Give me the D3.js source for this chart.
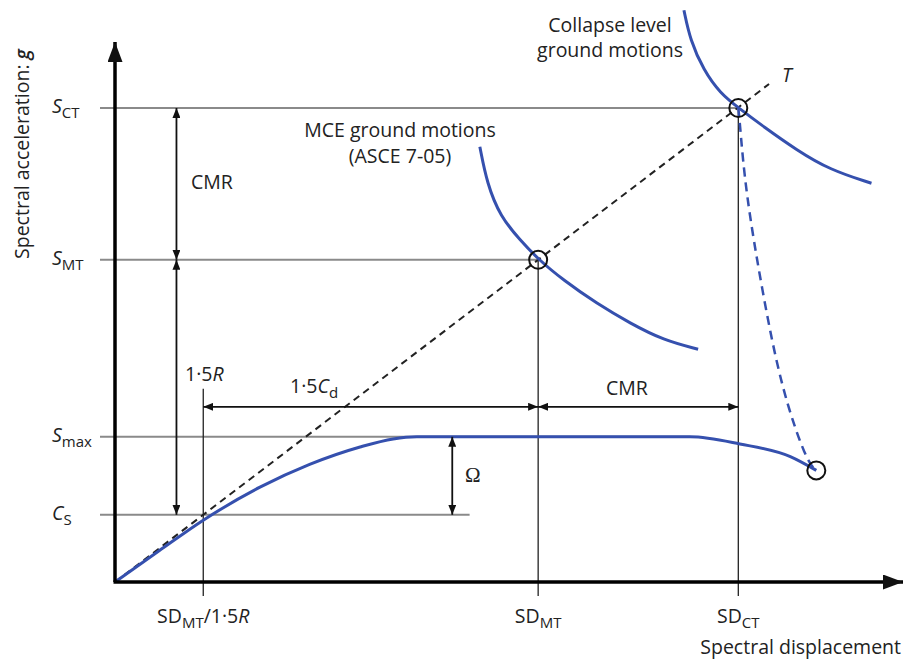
<!DOCTYPE html>
<html lang="en">
  <head>
    <meta charset="UTF-8" />
    <title>CMR diagram</title>
    <style>
      body { margin: 0; background: #fff; }
      text { font-family: "Open Sans", "Noto Sans", sans-serif; fill: #222; }
    </style>
  </head>
  <body>
    <script src="https://d3js.org/d3.v7.min.js"></script>
    <script>
      const width = 904;
      const height = 660;
      const fs = 19.5;

      // levels (units chosen so the T line is y = x)
      const sdLevels = [
        { key: "SDy", x: 1.12, top: 3.22 },
        { key: "SDMT", x: 5.37, top: 5.37 },
        { key: "SDCT", x: 7.91, top: 7.9 },
      ];
      const saLevels = [
        { key: "SCT", y: 7.9, x2: 7.91 },
        { key: "SMT", y: 5.37, x2: 5.37 },
        { key: "Smax", y: 2.42, x2: 7.3 },
        { key: "CS", y: 1.12, x2: 4.5 },
      ];

      // pushover curve
      const pushover = [
        [0, 0], [0.56, 0.52], [1.12, 1.03], [1.84, 1.58], [2.47, 1.96],
        [3.11, 2.25], [3.53, 2.385], [3.83, 2.42], [7.3, 2.42],
        [7.93, 2.3], [8.57, 2.09], [8.9, 1.86],
      ];
      // dashed drop to collapse
      const collapseDrop = [
        [7.91, 7.9], [7.93, 7.65], [8.0, 6.53], [8.21, 4.87],
        [8.46, 3.2], [8.78, 2.0], [8.9, 1.86],
      ];
      // MCE spectrum
      const mceCurve = [
        [4.63, 7.255], [4.72, 6.645], [4.89, 6.09], [5.14, 5.7], [5.37, 5.38],
        [5.69, 5.03], [6.11, 4.645], [6.54, 4.31], [6.96, 4.03], [7.4, 3.88],
      ];
      // collapse spectrum
      const collapseCurve = [
        [7.22, 9.53], [7.3, 9.03], [7.47, 8.53], [7.68, 8.145], [7.92, 7.895],
        [8.23, 7.59], [8.65, 7.2], [9.07, 6.87], [9.6, 6.645],
      ];
      const tLine = [[0, 0], [8.3, 8.3]];
      const markers = [[5.37, 5.37], [7.91, 7.9], [8.9, 1.86]];

      // dimension arrows
      const arrows = [
        [[0.78, 7.9], [0.78, 5.37]],
        [[0.78, 5.37], [0.78, 1.12]],
        [[1.12, 2.92], [5.37, 2.92]],
        [[5.37, 2.92], [7.91, 2.92]],
        [[4.28, 2.42], [4.28, 1.12]],
      ];

      const x = d3.scaleLinear().domain([0, 10]).range([115, 903]);
      const y = d3.scaleLinear().domain([0, 9]).range([582, 42]);

      const blue = "#3550ae";

      const svg = d3
        .select("body")
        .append("svg")
        .attr("width", width)
        .attr("height", height);

      const defs = svg.append("defs");
      function marker(id, w, h) {
        defs
          .append("marker")
          .attr("id", id)
          .attr("viewBox", `0 0 ${w} ${h}`)
          .attr("refX", w)
          .attr("refY", h / 2)
          .attr("markerWidth", w)
          .attr("markerHeight", h)
          .attr("markerUnits", "userSpaceOnUse")
          .attr("orient", "auto-start-reverse")
          .append("path")
          .attr("d", `M0,0L${w},${h / 2}L0,${h}Z`)
          .attr("fill", "#111");
      }
      marker("head", 10, 8);
      marker("big", 20, 15);

      // grey horizontal levels
      svg
        .selectAll("line.level")
        .data(saLevels)
        .join("line")
        .attr("class", "level")
        .attr("x1", 100)
        .attr("x2", (d) => x(d.x2))
        .attr("y1", (d) => y(d.y))
        .attr("y2", (d) => y(d.y))
        .attr("stroke", "#8a8a8a")
        .attr("stroke-width", 2);

      // thin vertical lines
      svg
        .selectAll("line.vert")
        .data(sdLevels)
        .join("line")
        .attr("class", "vert")
        .attr("x1", (d) => x(d.x))
        .attr("x2", (d) => x(d.x))
        .attr("y1", (d) => y(d.top))
        .attr("y2", 596)
        .attr("stroke", "#222")
        .attr("stroke-width", 1.3);

      // T line
      const line = d3.line().x((d) => x(d[0])).y((d) => y(d[1]));
      svg
        .append("path")
        .attr("d", line(tLine))
        .attr("fill", "none")
        .attr("stroke", "#222")
        .attr("stroke-width", 2)
        .attr("stroke-dasharray", "7,5");

      // curves
      const mono = d3.line().x((d) => x(d[0])).y((d) => y(d[1])).curve(d3.curveMonotoneX);
      const smooth = d3.line().x((d) => x(d[0])).y((d) => y(d[1])).curve(d3.curveBasis);
      svg.append("path").attr("d", mono(pushover)).attr("fill", "none")
        .attr("stroke", blue).attr("stroke-width", 3);
      [mceCurve, collapseCurve].forEach((c) =>
        svg.append("path").attr("d", smooth(c)).attr("fill", "none")
          .attr("stroke", blue).attr("stroke-width", 3)
      );
      svg
        .append("path")
        .attr("d", smooth(collapseDrop))
        .attr("fill", "none")
        .attr("stroke", blue)
        .attr("stroke-width", 2.5)
        .attr("stroke-dasharray", "9,6");

      // circles
      svg
        .selectAll("circle")
        .data(markers)
        .join("circle")
        .attr("cx", (d) => x(d[0]))
        .attr("cy", (d) => y(d[1]))
        .attr("r", 9)
        .attr("fill", "none")
        .attr("stroke", "#111")
        .attr("stroke-width", 2);

      svg
        .selectAll("line.arrow")
        .data(arrows)
        .join("line")
        .attr("class", "arrow")
        .attr("x1", (d) => x(d[0][0]))
        .attr("y1", (d) => y(d[0][1]))
        .attr("x2", (d) => x(d[1][0]))
        .attr("y2", (d) => y(d[1][1]))
        .attr("stroke", "#111")
        .attr("stroke-width", 1.8)
        .attr("marker-start", "url(#head)")
        .attr("marker-end", "url(#head)");

      // axes
      svg.append("line").attr("x1", x(0)).attr("y1", y(0)).attr("x2", x(0)).attr("y2", y(9))
        .attr("stroke", "#000").attr("stroke-width", 3.5).attr("marker-end", "url(#big)");
      svg.append("line").attr("x1", x(0) - 1.5).attr("y1", y(0)).attr("x2", x(10)).attr("y2", y(0))
        .attr("stroke", "#000").attr("stroke-width", 3.5).attr("marker-end", "url(#big)");

      // label helper: main text with subscript
      function label(px, py, main, sub, opts = {}) {
        const t = svg.append("text").attr("x", px).attr("y", py)
          .attr("font-size", fs)
          .attr("text-anchor", opts.anchor || "start");
        t.append("tspan").text(main).attr("font-style", opts.italicMain ? "italic" : null);
        if (sub) t.append("tspan").text(sub).attr("font-size", 15).attr("dy", 5);
        if (opts.tail) t.append("tspan").text(opts.tail).attr("dy", -5);
        if (opts.tailItalic) t.append("tspan").text(opts.tailItalic).attr("font-style", "italic");
        return t;
      }

      // y tick labels
      const yLabels = [
        { y: 7.9, main: "S", sub: "CT" },
        { y: 5.37, main: "S", sub: "MT" },
        { y: 2.42, main: "S", sub: "max" },
        { y: 1.12, main: "C", sub: "S" },
      ];
      yLabels.forEach((d) => label(52, y(d.y) + 5, d.main, d.sub, { italicMain: true }));

      // x tick labels
      label(x(5.37), 623, "SD", "MT", { anchor: "middle" });
      label(x(7.91), 623, "SD", "CT", { anchor: "middle" });
      label(x(1.12), 623, "SD", "MT", { anchor: "middle", tail: "/1·5", tailItalic: "R" });

      // axis titles
      const yt = svg.append("text")
        .attr("transform", `translate(29,${154}) rotate(-90)`)
        .attr("text-anchor", "middle")
        .attr("font-size", fs);
      yt.append("tspan").text("Spectral acceleration: ");
      yt.append("tspan").text("g").attr("font-style", "italic").attr("font-weight", 600);

      svg.append("text").attr("x", 901).attr("y", 654).attr("text-anchor", "end")
        .attr("font-size", fs).text("Spectral displacement");

      // annotations
      svg.append("text").attr("x", 191).attr("y", 189).attr("font-size", fs).text("CMR");
      svg.append("text").attr("x", 606).attr("y", 395).attr("font-size", fs).text("CMR");
      const r15 = svg.append("text").attr("x", 185).attr("y", 381).attr("font-size", fs);
      r15.append("tspan").text("1·5");
      r15.append("tspan").text("R").attr("font-style", "italic");
      const cd = svg.append("text").attr("x", 290).attr("y", 393).attr("font-size", fs);
      cd.append("tspan").text("1·5");
      cd.append("tspan").text("C").attr("font-style", "italic");
      cd.append("tspan").text("d").attr("font-size", 15).attr("dy", 5);
      svg.append("text").attr("x", 465).attr("y", 482).attr("font-size", 21)
        .style("font-family", "'Liberation Serif', serif").text("Ω");
      svg.append("text").attr("x", 782).attr("y", 82).attr("font-size", fs)
        .attr("font-style", "italic").text("T");

      svg.append("text").attr("x", 400).attr("y", 137).attr("text-anchor", "middle")
        .attr("font-size", fs).text("MCE ground motions");
      svg.append("text").attr("x", 400).attr("y", 163).attr("text-anchor", "middle")
        .attr("font-size", fs).text("(ASCE 7-05)");
      svg.append("text").attr("x", 610).attr("y", 32).attr("text-anchor", "middle")
        .attr("font-size", fs).text("Collapse level");
      svg.append("text").attr("x", 610).attr("y", 57).attr("text-anchor", "middle")
        .attr("font-size", fs).text("ground motions");
    </script>
  </body>
</html>
